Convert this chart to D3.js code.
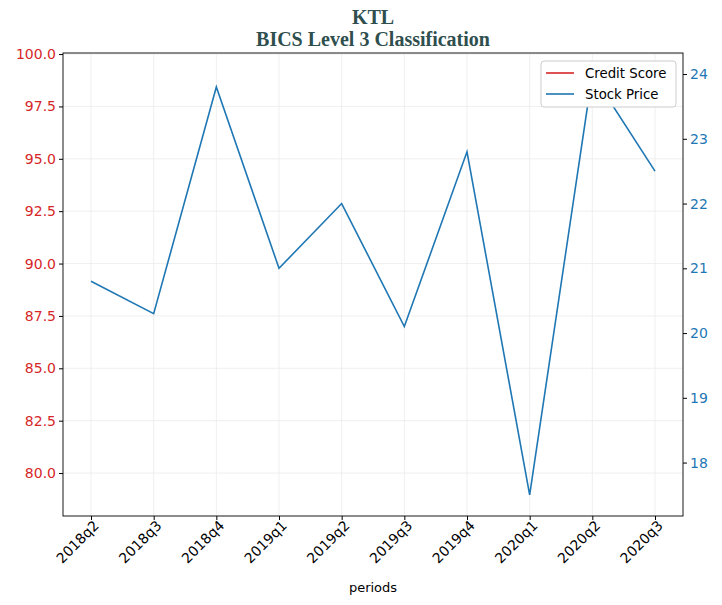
<!DOCTYPE html>
<html><head><meta charset="utf-8">
<script src="https://cdn.jsdelivr.net/npm/d3@7"></script>
<style>body{margin:0;background:#fff}</style></head>
<body><svg id="c" width="722" height="605"></svg>
<script>
const periods=["2018q2","2018q3","2018q4","2019q1","2019q2","2019q3","2019q4","2020q1","2020q2","2020q3"];
const stockPrice=[20.8,20.3,23.8,21.0,22.0,20.1,22.8,17.5,24.0,22.5];
const creditScore=[];
const leftTicks=[80,82.5,85,87.5,90,92.5,95,97.5,100];
const rightTicks=[18,19,20,21,22,23,24];

const svg=d3.select("#c");
const L=63,R=683,T=53,B=516;
const x=d3.scalePoint().domain(periods).range([L,R]).padding(0.447);
const yl=d3.scaleLinear().domain([77.95,100.05]).range([B,T]);
const yr=d3.scaleLinear().domain([17.175,24.325]).range([B,T]);
const g=svg.append("g");
g.selectAll(".gx").data(periods).join("line").attr("x1",d=>x(d)).attr("x2",d=>x(d)).attr("y1",T).attr("y2",B).attr("stroke","#ebebeb").attr("stroke-width",0.8);
g.selectAll(".gy").data(leftTicks).join("line").attr("x1",L).attr("x2",R).attr("y1",d=>yl(d)).attr("y2",d=>yl(d)).attr("stroke","#ebebeb").attr("stroke-width",0.8);
const fs="14px";
const ax=svg.append("g").attr("transform",`translate(0,${B})`).call(d3.axisBottom(x).tickSizeOuter(0).tickSize(4));
ax.selectAll("text").attr("font-family","DejaVu Sans").attr("font-size",fs).attr("fill","#000").attr("text-anchor","end").attr("transform","rotate(-45)").attr("dx","-0.1em").attr("dy","0.45em");
const al=svg.append("g").attr("transform",`translate(${L},0)`).call(d3.axisLeft(yl).tickValues(leftTicks).tickFormat(d3.format(".1f")).tickSize(4).tickSizeOuter(0));
al.selectAll("text").attr("font-family","DejaVu Sans").attr("font-size",fs).attr("fill","#d62728");
const ar=svg.append("g").attr("transform",`translate(${R},0)`).call(d3.axisRight(yr).tickValues(rightTicks).tickSize(4).tickSizeOuter(0));
ar.selectAll("text").attr("font-family","DejaVu Sans").attr("font-size",fs).attr("fill","#1f77b4");
svg.selectAll(".domain").remove();
svg.append("rect").attr("x",L).attr("y",T).attr("width",R-L).attr("height",B-T).attr("fill","none").attr("stroke","#000").attr("stroke-width",0.9);
svg.append("path").datum(stockPrice).attr("fill","none").attr("stroke","#1f77b4").attr("stroke-width",1.6)
 .attr("d",d3.line().x((d,i)=>x(periods[i])).y(d=>yr(d)));
svg.append("text").attr("x",373).attr("y",24).attr("text-anchor","middle").attr("font-family","Liberation Serif").attr("font-weight","bold").attr("font-size","20px").attr("fill","#2f4f4f").text("KTL");
svg.append("text").attr("x",373).attr("y",46).attr("text-anchor","middle").attr("font-family","Liberation Serif").attr("font-weight","bold").attr("font-size","20px").attr("fill","#2f4f4f").text("BICS Level 3 Classification");
svg.append("text").attr("x",373).attr("y",592).attr("text-anchor","middle").attr("font-family","DejaVu Sans").attr("font-size","13px").text("periods");
const lg=svg.append("g").attr("transform","translate(541,61)");
lg.append("rect").attr("width",135).attr("height",46).attr("rx",3).attr("fill","#fff").attr("stroke","#ccc");
[["Credit Score","#d62728"],["Stock Price","#1f77b4"]].forEach((d,i)=>{
 lg.append("line").attr("x1",5).attr("x2",33).attr("y1",12+i*21).attr("y2",12+i*21).attr("stroke",d[1]).attr("stroke-width",1.6);
 lg.append("text").attr("x",44).attr("y",17+i*21).attr("font-family","DejaVu Sans").attr("font-size","13.3px").text(d[0]);
});
</script></body></html>
